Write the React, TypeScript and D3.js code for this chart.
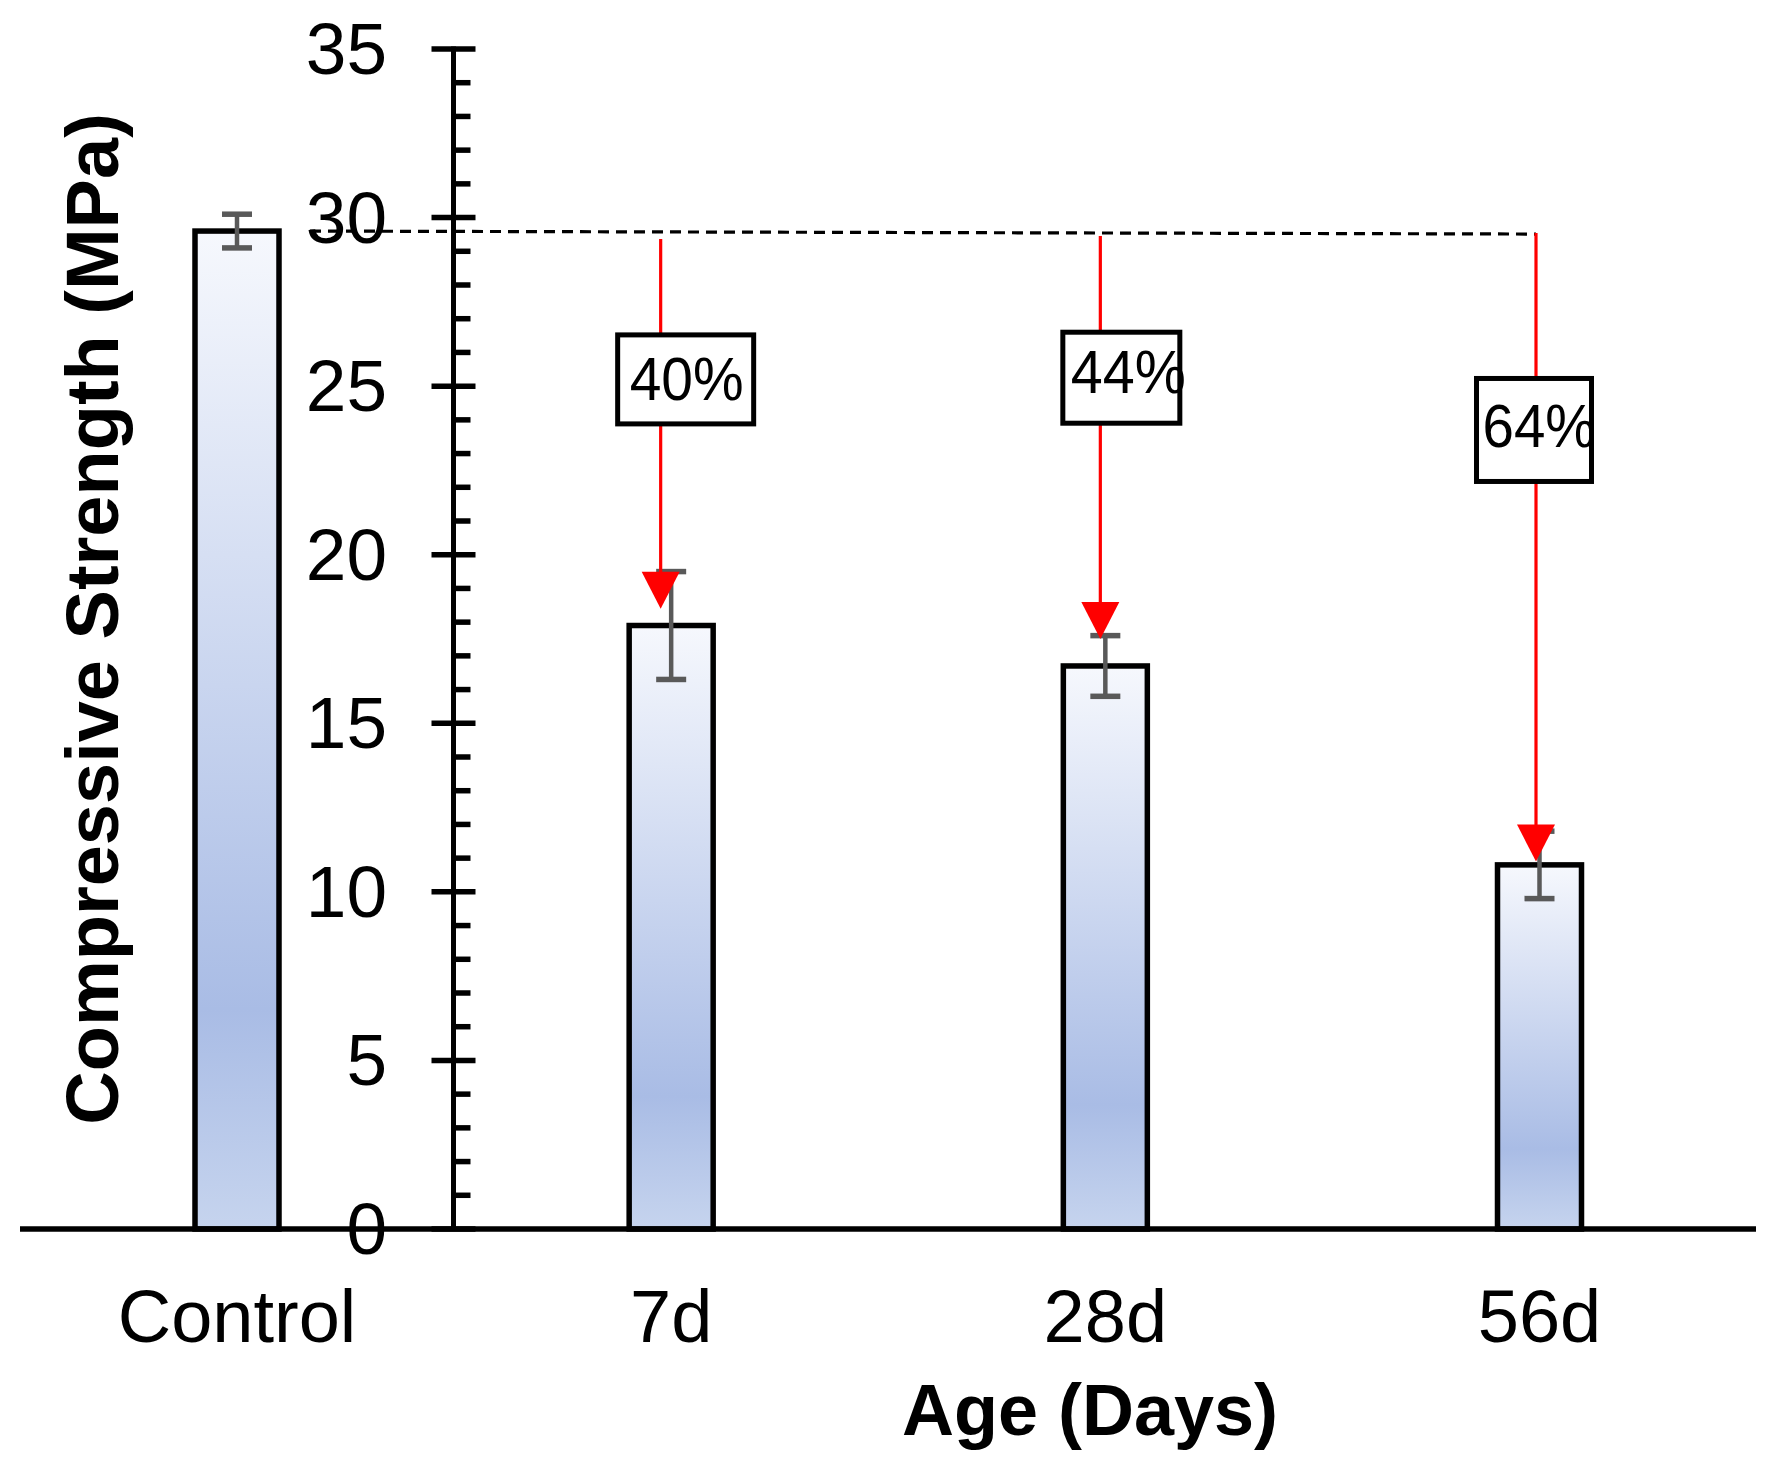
import React from "react";
import * as d3 from "d3";

const categories = ["Control", "7d", "28d", "56d"];
const strength = [29.6, 17.9, 16.7, 10.8];
const errors = [0.5, 1.6, 0.9, 1.0];
const reductionLabels = ["40%", "44%", "64%"];
const arrowTipValues = [18.4, 17.5, 10.9];
const majorTicks = [0, 5, 10, 15, 20, 25, 30, 35];
const yMax = 35;

const W = 1789;
const H = 1482;

export default function App() {
  const y = d3.scaleLinear().domain([0, yMax]).range([1229, 49]);
  const x = d3.scalePoint<string>().domain(categories).range([237, 1539.5]);
  const axisX = 453.5;
  const barW = 84;
  const minorTicks = d3.range(0, yMax + 1, 1).filter((v) => v % 5 !== 0);
  const font = "'Liberation Sans', Arial, sans-serif";

  // annotation layout (pixel offsets relative to bar centres)
  const arrowDx = [-10.5, -5, -3.5];
  const arrowStartDy = [8, 5, 2];
  const boxCenterVal = [25.2, 25.25, 23.7];
  const boxDx = [14.5, 16, -5.5];
  const boxW = [136, 117, 115];
  const boxH = [89, 91, 103];
  const textDx = [12, 8, 6];
  const textDy = [21, 15, 17];
  const textLen = [114, 115, 113];
  const headH = 37;
  const headHalf = 19;

  const refY = y(strength[0]);
  const dashEndX = (x(categories[3]) as number) + arrowDx[2];

  return (
    <svg
      width={W}
      height={H}
      style={{ position: "absolute", left: 0, top: 0, background: "#fff" }}
    >
      <defs>
        <linearGradient id="barGrad" x1="0" y1="0" x2="0" y2="1">
          <stop offset="0" stopColor="#f6f8fd" />
          <stop offset="0.78" stopColor="#a9bce5" />
          <stop offset="1" stopColor="#c6d4ee" />
        </linearGradient>
      </defs>
      <rect x={0} y={0} width={W} height={H} fill="#fff" />

      {/* bars */}
      {categories.map((c, i) => (
        <rect
          key={c}
          x={(x(c) as number) - barW / 2}
          y={y(strength[i])}
          width={barW}
          height={y(0) - y(strength[i])}
          fill="url(#barGrad)"
          stroke="#000"
          strokeWidth={5.5}
        />
      ))}

      {/* error bars */}
      {categories.map((c, i) => {
        const cx = x(c) as number;
        const top = y(strength[i] + errors[i]);
        const bot = y(strength[i] - errors[i]);
        return (
          <g key={"e" + c} stroke="#595959">
            <line x1={cx} x2={cx} y1={top} y2={bot} strokeWidth={4.5} />
            <line x1={cx - 15} x2={cx + 15} y1={top} y2={top} strokeWidth={5.5} />
            <line x1={cx - 15} x2={cx + 15} y1={bot} y2={bot} strokeWidth={5.5} />
          </g>
        );
      })}

      {/* reference dashed line */}
      <line
        x1={310}
        x2={dashEndX}
        y1={refY}
        y2={refY + 3}
        stroke="#000"
        strokeWidth={3.2}
        strokeDasharray="11 7"
      />

      {/* arrows and labels */}
      {reductionLabels.map((lab, k) => {
        const i = k + 1;
        const cx = (x(categories[i]) as number) + arrowDx[k];
        const y0 = refY + arrowStartDy[k];
        const tip = y(arrowTipValues[k]);
        const bcx = (x(categories[i]) as number) + boxDx[k];
        const bcy = y(boxCenterVal[k]);
        const bx = bcx - boxW[k] / 2;
        const by = bcy - boxH[k] / 2;
        return (
          <g key={lab}>
            <line x1={cx} x2={cx} y1={y0} y2={tip - headH + 2} stroke="#ff0000" strokeWidth={3.2} />
            <path
              d={`M${cx - headHalf},${tip - headH} L${cx + headHalf},${tip - headH} L${cx},${tip} Z`}
              fill="#ff0000"
            />
            <rect x={bx} y={by} width={boxW[k]} height={boxH[k]} fill="#fff" stroke="#000" strokeWidth={5} />
            <text
              x={bx + textDx[k]}
              y={bcy + textDy[k]}
              fontFamily={font}
              fontSize={61}
              fill="#000"
              textLength={textLen[k]}
              lengthAdjust="spacingAndGlyphs"
            >
              {lab}
            </text>
          </g>
        );
      })}

      {/* y axis */}
      <line x1={axisX} x2={axisX} y1={y(yMax) - 2.5} y2={y(0)} stroke="#000" strokeWidth={5} />
      {majorTicks.map((t) => (
        <line key={"M" + t} x1={axisX - 22} x2={axisX + 22} y1={y(t)} y2={y(t)} stroke="#000" strokeWidth={5.5} />
      ))}
      {minorTicks.map((t) => (
        <line key={"m" + t} x1={axisX} x2={axisX + 17} y1={y(t)} y2={y(t)} stroke="#000" strokeWidth={5.5} />
      ))}
      {majorTicks.map((t) => (
        <text
          key={"l" + t}
          x={387}
          y={y(t) + 25}
          textAnchor="end"
          fontFamily={font}
          fontSize={73}
          fill="#000"
        >
          {t}
        </text>
      ))}

      {/* x axis */}
      <line x1={20} x2={1756} y1={y(0)} y2={y(0)} stroke="#000" strokeWidth={5.5} />
      {categories.map((c) => (
        <text
          key={"c" + c}
          x={x(c) as number}
          y={1342}
          textAnchor="middle"
          fontFamily={font}
          fontSize={74}
          fill="#000"
        >
          {c}
        </text>
      ))}

      {/* titles */}
      <text
        x={1090}
        y={1435}
        textAnchor="middle"
        fontFamily={font}
        fontWeight="bold"
        fontSize={72}
        fill="#000"
      >
        Age (Days)
      </text>
      <text
        transform={`translate(118,619) rotate(-90)`}
        textAnchor="middle"
        fontFamily={font}
        fontWeight="bold"
        fontSize={74}
        fill="#000"
      >
        Compressive Strength (MPa)
      </text>
    </svg>
  );
}
